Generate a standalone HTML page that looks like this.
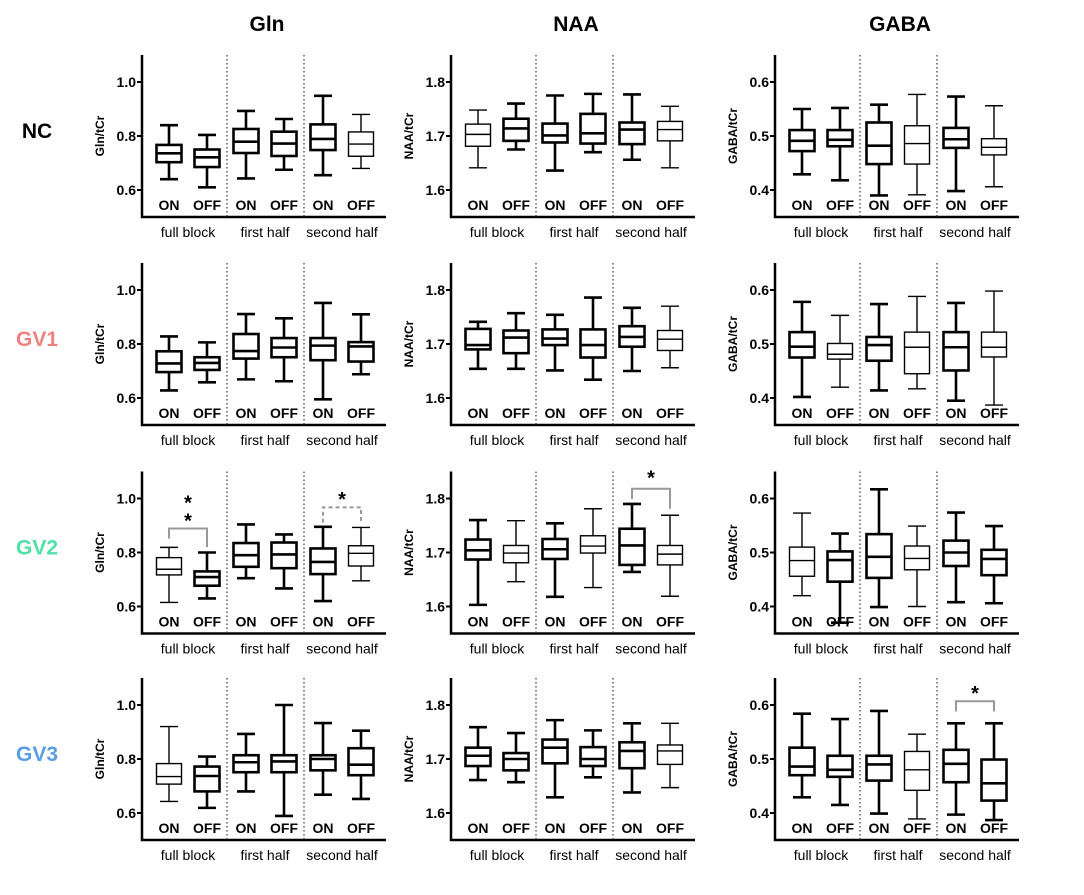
<!DOCTYPE html>
<html><head><meta charset="utf-8"><style>
html,body{margin:0;padding:0;background:#fff;}
svg{display:block;font-family:"Liberation Sans",sans-serif;}
</style></head><body>
<svg id="fig" width="1084" height="895" viewBox="0 0 1084 895"></svg>
<script>
const categories = ['ON','OFF','ON','OFF','ON','OFF'];
const groups = ['full block','first half','second half'];
const metabolites = ['Gln','NAA','GABA'];
const groupNames = ['NC','GV1','GV2','GV3'];
const groupColors = ['#000000','#f08080','#50e0a8','#5a9ee6'];
const yMins = [0.5, 1.55, 0.35];
const yMaxs = [1.1, 1.85, 0.65];
const tickVals = [[0.6,0.8,1.0],[1.6,1.7,1.8],[0.4,0.5,0.6]];
const tickLabels = [['0.6','0.8','1.0'],['1.6','1.7','1.8'],['0.4','0.5','0.6']];
// five-number summaries [min,q1,median,q3,max]
const glnNC = [[0.64,0.703,0.736,0.767,0.84],[0.61,0.685,0.721,0.75,0.804],[0.643,0.737,0.779,0.826,0.893],[0.675,0.726,0.772,0.816,0.863],[0.655,0.748,0.789,0.843,0.949],[0.68,0.725,0.77,0.815,0.88]];
const naaNC = [[1.641,1.681,1.703,1.722,1.748],[1.675,1.691,1.714,1.732,1.76],[1.636,1.688,1.701,1.723,1.775],[1.67,1.686,1.705,1.741,1.778],[1.656,1.685,1.712,1.725,1.777],[1.641,1.691,1.712,1.727,1.755]];
const gabaNC = [[0.429,0.472,0.491,0.511,0.55],[0.418,0.481,0.493,0.511,0.552],[0.39,0.448,0.482,0.525,0.558],[0.391,0.448,0.486,0.519,0.577],[0.398,0.478,0.494,0.515,0.573],[0.406,0.465,0.479,0.495,0.556]];
const glnGV1 = [[0.628,0.696,0.728,0.773,0.828],[0.658,0.704,0.73,0.751,0.806],[0.669,0.746,0.774,0.837,0.911],[0.662,0.751,0.787,0.822,0.895],[0.595,0.74,0.794,0.822,0.952],[0.688,0.735,0.791,0.807,0.91]];
const naaGV1 = [[1.654,1.69,1.698,1.728,1.741],[1.654,1.683,1.712,1.725,1.757],[1.651,1.698,1.71,1.727,1.754],[1.634,1.675,1.698,1.727,1.786],[1.65,1.695,1.713,1.733,1.767],[1.656,1.688,1.709,1.725,1.77]];
const gabaGV1 = [[0.402,0.475,0.495,0.522,0.578],[0.42,0.472,0.481,0.501,0.553],[0.414,0.469,0.498,0.513,0.574],[0.417,0.445,0.494,0.522,0.588],[0.395,0.451,0.494,0.522,0.576],[0.387,0.476,0.494,0.522,0.598]];
const glnGV2 = [[0.615,0.717,0.738,0.781,0.819],[0.63,0.677,0.709,0.73,0.8],[0.705,0.747,0.79,0.835,0.904],[0.667,0.742,0.793,0.837,0.867],[0.62,0.72,0.765,0.815,0.895],[0.695,0.75,0.797,0.825,0.893]];
const naaGV2 = [[1.603,1.687,1.704,1.724,1.76],[1.646,1.681,1.699,1.713,1.759],[1.618,1.688,1.706,1.725,1.754],[1.635,1.699,1.712,1.731,1.781],[1.664,1.677,1.713,1.744,1.79],[1.619,1.677,1.697,1.713,1.769]];
const gabaGV2 = [[0.42,0.456,0.485,0.51,0.573],[0.37,0.446,0.486,0.502,0.535],[0.399,0.453,0.492,0.534,0.617],[0.4,0.468,0.489,0.512,0.549],[0.408,0.475,0.5,0.522,0.574],[0.406,0.458,0.488,0.505,0.549]];
const glnGV3 = [[0.643,0.707,0.735,0.783,0.92],[0.619,0.68,0.737,0.772,0.809],[0.68,0.751,0.788,0.814,0.893],[0.589,0.751,0.791,0.814,1.0],[0.668,0.758,0.8,0.814,0.933],[0.652,0.74,0.779,0.84,0.905]];
const naaGV3 = [[1.661,1.687,1.706,1.721,1.759],[1.657,1.679,1.7,1.711,1.748],[1.629,1.692,1.721,1.736,1.772],[1.666,1.687,1.7,1.722,1.753],[1.638,1.683,1.715,1.731,1.766],[1.647,1.69,1.715,1.726,1.766]];
const gabaGV3 = [[0.429,0.47,0.486,0.521,0.584],[0.415,0.467,0.48,0.506,0.574],[0.399,0.46,0.49,0.506,0.589],[0.389,0.442,0.48,0.514,0.546],[0.397,0.457,0.491,0.517,0.566],[0.387,0.423,0.455,0.499,0.566]];
const panelData = [[glnNC,naaNC,gabaNC],[glnGV1,naaGV1,gabaGV1],[glnGV2,naaGV2,gabaGV2],[glnGV3,naaGV3,gabaGV3]];
// heavy outline per box (style)
const heavy = [
 [[1,1,1,1,1,0],[0,1,1,1,1,0],[1,1,1,0,1,0]],
 [[1,1,1,1,1,1],[1,1,1,1,1,0],[1,0,1,0,1,0]],
 [[0,1,1,1,1,0],[1,0,1,0,1,0],[0,1,1,0,1,1]],
 [[0,1,1,1,1,1],[1,1,1,1,1,0],[1,1,1,0,1,1]]];
// significance brackets: [row,col,boxA,boxB,topValue,endA,endB,starValues,dashed]
const brackets = [
 [2,0,0,1,0.889,0.852,0.82,[0.997,0.93],false],
 [2,0,4,5,0.967,0.91,0.91,[1.01],true],
 [2,1,4,5,1.818,1.799,1.781,[1.844],false],
 [3,2,4,5,0.607,0.588,0.588,[0.628],false]];

const axisX = [142,451,775];
const axisBottom = [217,425,633.5,840];
const plotH = 162, plotW = 244;
const boxOff = [27,65,104,142,181,219];
const NS='http://www.w3.org/2000/svg';
const svg=document.getElementById('fig');
function mk(tag,attrs,parent){const e=document.createElementNS(NS,tag);for(const k in attrs)e.setAttribute(k,attrs[k]);(parent||svg).appendChild(e);return e;}
function yScale(row,col,v){return axisBottom[row]-(v-yMins[col])/(yMaxs[col]-yMins[col])*plotH;}
function xScale(col,i){return axisX[col]+boxOff[i];}

metabolites.forEach((m,c)=>{
  const t=mk('text',{x:axisX[c]+125,y:31,'text-anchor':'middle','font-size':21,'font-weight':'bold'});
  t.textContent=m;
  
  
});
groupNames.forEach((g,r)=>{
  const t=mk('text',{x:37,y:axisBottom[r]-79,'text-anchor':'middle','font-size':21,'font-weight':'bold',fill:groupColors[r]});
  t.textContent=g;
  
  
});

for(let r=0;r<4;r++){for(let c=0;c<3;c++){
  const g=mk('g',{});
  
  
  const x0=axisX[c], yb=axisBottom[r];
  const ax=mk('path',{d:`M${x0},${yb-plotH} V${yb} H${x0+plotW}`,fill:'none',stroke:'#000','stroke-width':2.5},g);
  
  
  tickVals[c].forEach((v,k)=>{
    const y=yScale(r,c,v);
    mk('line',{x1:x0-5,x2:x0,y1:y,y2:y,stroke:'#000','stroke-width':2},g);
    const tl=mk('text',{x:x0-6,y:y+5,'text-anchor':'end','font-size':14,'font-weight':'bold'},g);
    tl.textContent=tickLabels[c][k];
    
    
  });
  const yt=mk('text',{transform:`translate(${x0-38},${yb-81}) rotate(-90)`,'text-anchor':'middle','font-size':12,'font-weight':'bold'},g);
  yt.textContent=metabolites[c]+'/tCr';
  
  
  [85,162].forEach(dx=>{
    const dl=mk('line',{x1:x0+dx,x2:x0+dx,y1:yb-plotH,y2:yb,stroke:'#444','stroke-width':1.3,'stroke-dasharray':'1.5,2.5'},g);
    
    
  });
  groups.forEach((gn,k)=>{
    const gl=mk('text',{x:x0+46+77*k,y:yb+20,'text-anchor':'middle','font-size':14},g);
    gl.textContent=gn;
    
    
  });
  panelData[r][c].forEach((d,i)=>{
    const cx=xScale(c,i), sw=heavy[r][c][i]?2.6:1.4;
    const bg=mk('g',{stroke:'#000','stroke-width':sw,fill:'none'},g);
    
    
    const [mn,q1,md,q3,mx]=d.map(v=>yScale(r,c,v));
    mk('line',{x1:cx,x2:cx,y1:mx,y2:q3},bg);
    mk('line',{x1:cx,x2:cx,y1:q1,y2:mn},bg);
    mk('line',{x1:cx-9,x2:cx+9,y1:mx,y2:mx},bg);
    mk('line',{x1:cx-9,x2:cx+9,y1:mn,y2:mn},bg);
    mk('rect',{x:cx-12.5,y:q3,width:25,height:q1-q3,fill:'#fff'},bg);
    mk('line',{x1:cx-12.5,x2:cx+12.5,y1:md,y2:md},bg);
    const cl=mk('text',{x:cx,y:yb-7,'text-anchor':'middle','font-size':14,'font-weight':'bold'},g);
    cl.textContent=categories[i];
    
    
  });
}}
brackets.forEach(b=>{
  const [r,c,a,bb,top,ea,eb,stars,dashed]=b;
  const xa=xScale(c,a), xb=xScale(c,bb);
  const p=mk('path',{d:`M${xa},${yScale(r,c,ea)} V${yScale(r,c,top)} H${xb} V${yScale(r,c,eb)}`,fill:'none',stroke:'#999','stroke-width':2,'stroke-dasharray':dashed?'4,3':'none'});
  
  
  stars.forEach(s=>{
    const t=mk('text',{x:(xa+xb)/2,y:yScale(r,c,s)+10,'text-anchor':'middle','font-size':20,'font-weight':'bold'});
    t.textContent='*';
    
    
  });
});
</script>
</body></html>
